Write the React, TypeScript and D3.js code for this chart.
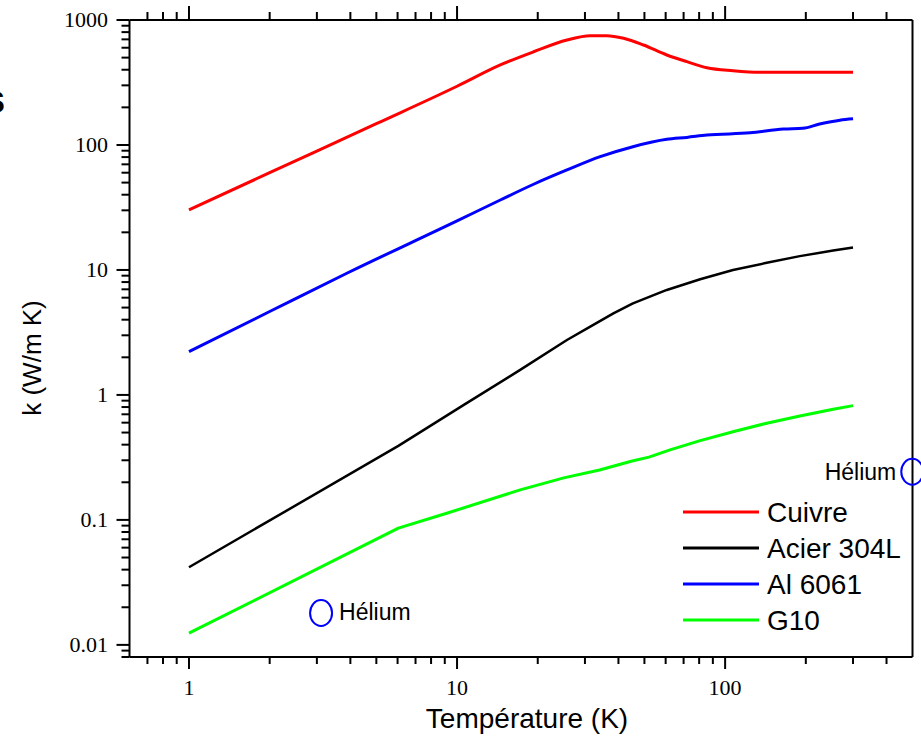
import React from "react";
import * as d3 from "d3";

// ---- data ----
const cuivreT = [1, 2, 5, 10, 14.5, 19.3, 25.7, 31.4, 36.2, 41.8, 49.6, 60.6, 72, 85.5, 107, 135, 200, 300];
const cuivreK = [30.2, 60, 148, 295, 437, 557, 692, 749, 749, 714, 631, 525, 464, 415, 393, 382, 382, 382];

const alT = [1, 2, 3.88, 10, 14.5, 19.3, 25.7, 34.2, 45.3, 60.6, 72, 85.5, 124, 165, 195, 225, 268, 300];
const alK = [2.22, 4.65, 9.41, 24.7, 36.3, 48.5, 63.1, 80.6, 96.9, 111, 115, 120, 125, 134, 136, 147, 158, 162];

const acierT = [1, 6.04, 10.6, 17.2, 25.7, 31.4, 38.3, 45.3, 60.6, 80.7, 107, 143, 190, 253, 300];
const acierK = [0.0418, 0.391, 0.832, 1.585, 2.75, 3.52, 4.5, 5.41, 6.92, 8.43, 10, 11.4, 12.9, 14.3, 15.1];

const g10T = [1, 6.04, 9.15, 17.2, 25, 34, 45, 52, 62.3, 80.7, 107, 143, 190, 253, 300];
const g10K = [0.0124, 0.0859, 0.113, 0.174, 0.217, 0.251, 0.296, 0.318, 0.363, 0.431, 0.508, 0.594, 0.679, 0.769, 0.821];

const heliumT = [3.11, 499];
const heliumK = [0.018, 0.243];

const seriesNames = ["Cuivre", "Acier 304L", "Al 6061", "G10"];
const seriesColors = ["#ff0000", "#000000", "#0000ff", "#00ff00"];

const xTickLabels = ["1", "10", "100"];
const yTickLabels = ["0.01", "0.1", "1", "10", "100", "1000"];

const W = 921;
const H = 749;

export default function App() {
  const x = d3.scaleLog().domain([0.6, 500]).range([129.5, 912.5]);
  const y = d3.scaleLog().domain([0.008, 1000]).range([657, 20]);

  const smooth = d3
    .line<[number, number]>()
    .x((d) => x(d[0]))
    .y((d) => y(d[1]))
    .curve(d3.curveMonotoneX);
  const straight = d3
    .line<[number, number]>()
    .x((d) => x(d[0]))
    .y((d) => y(d[1]))
    .curve(d3.curveLinear);

  const zip = (a: number[], b: number[]) => a.map((v, i) => [v, b[i]] as [number, number]);
  const series = [
    { name: seriesNames[0], color: seriesColors[0], data: zip(cuivreT, cuivreK), w: 3, gen: smooth },
    { name: seriesNames[1], color: seriesColors[1], data: zip(acierT, acierK), w: 2.5, gen: straight },
    { name: seriesNames[2], color: seriesColors[2], data: zip(alT, alK), w: 3, gen: smooth },
    { name: seriesNames[3], color: seriesColors[3], data: zip(g10T, g10K), w: 3, gen: straight },
  ];

  const isMajor = (v: number) => Math.abs(Math.log10(v) - Math.round(Math.log10(v))) < 1e-6;
  const xTicks = x.ticks().filter((v) => v > 0.6 + 1e-9 && v < 500 - 1e-9);
  const yTicks = y.ticks().filter((v) => v >= 0.008 && v <= 1000 + 1e-9);

  const [x0, x1] = x.range();
  const [y0, y1] = [y.range()[1], y.range()[0]]; // top, bottom

  const sans = "'Liberation Sans', Arial, sans-serif";
  const serif = "'Liberation Serif', 'Times New Roman', serif";

  const legendX1 = 683;
  const legendX2 = 759;
  const legendY0 = 512;
  const legendDy = 36;

  return (
    <svg
      width={W}
      height={H}
      style={{ position: "absolute", left: 0, top: 0, background: "#fff" }}
      xmlns="http://www.w3.org/2000/svg"
    >
      <rect x={0} y={0} width={W} height={H} fill="#fff" />

      {/* curves */}
      {series.map((s) => (
        <path
          key={s.name}
          d={s.gen(s.data) || ""}
          fill="none"
          stroke={s.color}
          strokeWidth={s.w}
          strokeLinejoin="round"
        />
      ))}

      {/* frame */}
      <g stroke="#000" strokeWidth={2} fill="none">
        <line x1={x0} y1={y0} x2={x1} y2={y0} />
        <line x1={x0} y1={y1} x2={x1} y2={y1} />
        <line x1={x0} y1={y0} x2={x0} y2={y1} />
        <line x1={x1} y1={y0} x2={x1} y2={y1} />
      </g>

      {/* bottom & top ticks, left ticks */}
      <g stroke="#000" strokeWidth={2}>
        {xTicks.map((t) => {
          const major = isMajor(t);
          const px = x(t);
          return (
            <g key={"xt" + t}>
              <line x1={px} y1={y1} x2={px} y2={y1 + (major ? 12 : 7)} />
              <line x1={px} y1={y0} x2={px} y2={y0 - (major ? 14 : 8)} />
            </g>
          );
        })}
        {yTicks.map((t) => {
          const major = isMajor(t);
          const py = y(t);
          return <line key={"yt" + t} x1={x0} y1={py} x2={x0 - (major ? 13 : 8)} y2={py} />;
        })}
      </g>

      {/* tick labels */}
      <g fontFamily={serif} fontSize={22} fill="#000">
        {xTickLabels.map((lab) => (
          <text key={"xl" + lab} x={x(+lab)} y={695} textAnchor="middle">
            {lab}
          </text>
        ))}
        {yTickLabels.map((lab) => (
          <text key={"yl" + lab} x={108} y={y(+lab) + 7} textAnchor="end">
            {lab}
          </text>
        ))}
      </g>

      {/* axis titles */}
      <text x={527} y={728} textAnchor="middle" fontFamily={sans} fontSize={28} fill="#000">
        Température (K)
      </text>
      <text
        transform={`translate(41,358) rotate(-90)`}
        textAnchor="middle"
        fontFamily={sans}
        fontSize={26}
        fill="#000"
      >
        k (W/m K)
      </text>

      {/* legend */}
      {series.map((s, i) => (
        <g key={"lg" + s.name}>
          <line
            x1={legendX1}
            x2={legendX2}
            y1={legendY0 + i * legendDy}
            y2={legendY0 + i * legendDy}
            stroke={s.color}
            strokeWidth={3}
          />
          <text x={767} y={legendY0 + i * legendDy + 10} fontFamily={sans} fontSize={28} fill="#000">
            {s.name}
          </text>
        </g>
      ))}

      {/* helium markers */}
      {heliumT.map((t, i) => (
        <ellipse
          key={"he" + i}
          cx={x(t)}
          cy={y(heliumK[i])}
          rx={11}
          ry={13}
          fill="none"
          stroke="#0000ff"
          strokeWidth={2}
        />
      ))}
      <text x={x(heliumT[0]) + 18} y={y(heliumK[0]) + 7} fontFamily={sans} fontSize={23} fill="#000">
        Hélium
      </text>
      <text
        x={x(heliumT[1]) - 16}
        y={y(heliumK[1]) + 8}
        textAnchor="end"
        fontFamily={sans}
        fontSize={23}
        fill="#000"
      >
        Hélium
      </text>

      {/* cropped fragment at left edge, as in the reference */}
      <text x={-17} y={113} fontFamily={sans} fontWeight="bold" fontSize={40} fill="#000">
        s
      </text>
    </svg>
  );
}
